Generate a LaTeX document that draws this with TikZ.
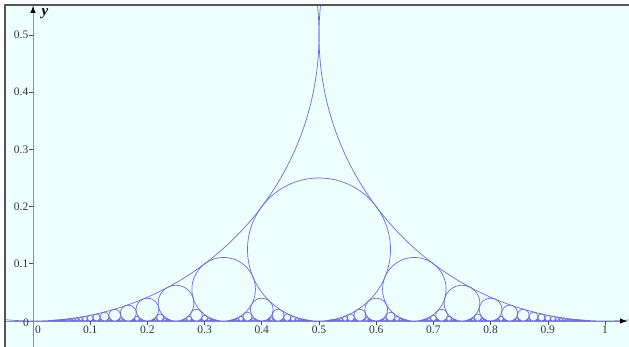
\documentclass[tikz,border=0pt]{standalone}
\usepackage{fontspec}
\setmainfont{Liberation Serif}
\usetikzlibrary{arrows.meta}
\definecolor{bgc}{HTML}{EEFFFF}
\definecolor{circ}{HTML}{6A6AE0}
\definecolor{axc}{HTML}{8A9298}
\definecolor{framec}{HTML}{555555}
\begin{document}
\begin{tikzpicture}[x=572pt,y=572pt,
  ford/.style={draw=circ, line width=0.7pt},
  axisline/.style={draw=axc, line width=0.8pt},
  axtip/.style={-{Latex[black,length=7pt,width=5.5pt]}},
  tickmark/.style={draw=black!70, line width=0.6pt},
  ticklabel/.style={inner sep=0pt, font=\fontsize{11.5}{13}\selectfont, text=black!80},
]
\useasboundingbox (-0.057692,-0.045455) rectangle (1.041958,0.561189);
\fill[white] (-0.057692,-0.045455) rectangle (1.041958,0.561189);
\coordinate (fbl) at (-0.048951,-0.045455);
\coordinate (ftl) at (-0.048951,0.552448);
\coordinate (ftr) at (1.041958,0.552448);
\fill[bgc] (fbl) rectangle (ftr);
% axes lines
\coordinate (xs) at (-0.048951,0);
\coordinate (xe) at (1.03846,0);
\coordinate (ys) at (0,-0.045455);
\coordinate (ye) at (0,0.5507);
\draw[axisline] (xs) -- (xe);
\draw[axisline] (ys) -- (ye);
% Ford circles
\begin{scope}
\clip (fbl) rectangle (ftr);
\draw[ford] (0,0.5) circle[radius=0.5];
\draw[ford] (1,0.5) circle[radius=0.5];
\foreach \q in {2,...,30}{
  \foreach \p in {1,...,\q}{
    \pgfmathtruncatemacro{\g}{gcd(\p,\q)}
    \ifnum\g=1
      \draw[ford] ({\p/\q},{0.5/(\q*\q)}) circle[radius={0.5/(\q*\q)}];
    \fi
  }
}
\end{scope}
% arrow tips
\draw[axisline,axtip] ([xshift=-10pt]xe) -- (xe);
\draw[axisline,axtip] ([yshift=-10pt]ye) -- (ye);
% frame
\draw[framec, line width=1.2pt] (fbl) -- (ftl) -- (ftr);
% ticks and labels
\foreach \v/\n in {0.1/1,0.2/2,0.3/3,0.4/4,0.5/5}{
  \draw[tickmark] (0,\v) -- ++(-4pt,0);
  \node[ticklabel,anchor=east] (yl\n) at ([xshift=-4.5pt]0,\v) {\v};
}
\foreach \v/\n in {0.1/1,0.2/2,0.3/3,0.4/4,0.5/5,0.6/6,0.7/7,0.8/8,0.9/9,1/10}{
  \draw[tickmark] (\v,0) -- ++(0,-4pt);
  \node[ticklabel,anchor=north] (xl\n) at ([yshift=-4.5pt]\v,0) {\v};
}
\node[ticklabel] (x0) at ([xshift=5pt,yshift=-9pt]0,0) {0};
\node[ticklabel] (y0) at ([xshift=-7pt,yshift=-2pt]0,0) {0};
\node[inner sep=0pt, font=\fontsize{15}{17}\selectfont\bfseries\itshape] (ylab) at (0.02098,0.53671) {y};
\end{tikzpicture}
\end{document}
